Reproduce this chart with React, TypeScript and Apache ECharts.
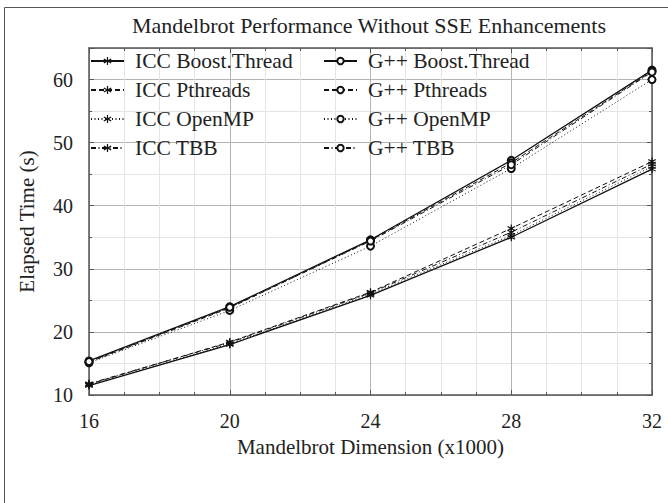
import React, { useEffect, useRef } from 'react';
import * as echarts from 'echarts';

const dims = [16, 20, 24, 28, 32];
const iccBoost = [11.5, 18.0, 25.8, 35.0, 45.8];
const iccPthreads = [11.7, 18.4, 26.3, 36.4, 47.0];
const iccOpenMP = [11.6, 18.1, 26.0, 35.3, 46.2];
const iccTBB = [11.8, 18.3, 26.2, 35.8, 46.6];
const gppBoost = [15.4, 24.0, 34.6, 47.2, 61.5];
const gppPthreads = [15.2, 23.8, 34.5, 46.8, 61.3];
const gppOpenMP = [15.1, 23.4, 33.6, 45.9, 60.0];
const gppTBB = [15.3, 23.9, 34.4, 46.5, 61.2];

const iccNames = ['ICC Boost.Thread', 'ICC Pthreads', 'ICC OpenMP', 'ICC TBB'];
const gppNames = ['G++ Boost.Thread', 'G++ Pthreads', 'G++ OpenMP', 'G++ TBB'];
const yTicks = [10, 20, 30, 40, 50, 60];

const FONT = "'Liberation Serif', serif";
const TXT = '#222';
const AX = '#555';

const ASTERISK =
  'path://M-1.4,-10L1.4,-10L1.4,10L-1.4,10Z M-9.36,-3.79L-7.96,-6.21L9.36,3.79L7.96,6.21Z M7.96,-6.21L9.36,-3.79L-7.96,6.21L-9.36,3.79Z';

const lineTypes: any[] = ['solid', [5, 3], [1, 2.5], [5, 2.5, 1, 2.5]];

export default function App() {
  const ref = useRef<HTMLDivElement>(null);
  useEffect(() => {
    document.body.style.margin = '0';
    if (!ref.current) return;
    const chart = echarts.init(ref.current, null, { renderer: 'svg' });

    const iccData = [iccBoost, iccPthreads, iccOpenMP, iccTBB];
    const gppData = [gppBoost, gppPthreads, gppOpenMP, gppTBB];

    const mk = (name: string, vals: number[], i: number, icc: boolean) => ({
      name,
      type: 'line',
      xAxisIndex: 0,
      yAxisIndex: 1,
      data: vals.map((v, k) => [dims[k], v]),
      symbol: icc ? ASTERISK : 'emptyCircle',
      symbolSize: icc ? 8 : 7,
      showAllSymbol: true,
      lineStyle: { color: '#111', width: i === 0 ? 1.3 : 1, type: lineTypes[i] },
      itemStyle: icc
        ? { color: '#111', borderWidth: 0 }
        : { color: '#111', borderColor: '#111', borderWidth: 1.2 },
      emphasis: { disabled: true },
      z: 3,
    });

    const series = [
      ...iccNames.map((n, i) => mk(n, iccData[i], i, true)),
      ...gppNames.map((n, i) => mk(n, gppData[i], i, false)),
    ];

    const legendBase = {
      orient: 'vertical',
      top: 50,
      padding: 0,
      itemWidth: 33,
      itemGap: 7,
      selectedMode: false,
      textStyle: {
        fontFamily: FONT,
        fontSize: 21.5,
        color: TXT,
        lineHeight: 22,
        padding: [0, 0, 0, 6],
      },
    };

    chart.setOption({
      animation: false,
      textStyle: { fontFamily: FONT },
      grid: { left: 89, right: 16, top: 48, bottom: 108 },
      graphic: [
        {
          type: 'rect',
          shape: { x: 4.5, y: 7.5, width: 700, height: 600 },
          style: { fill: 'none', stroke: AX, lineWidth: 1 },
          silent: true,
        },
        {
          type: 'text',
          x: 369,
          y: 25,
          style: {
            text: 'Mandelbrot Performance Without SSE Enhancements',
            fontFamily: FONT,
            fontSize: 22,
            fill: TXT,
            align: 'center',
            verticalAlign: 'middle',
          },
          silent: true,
        },
      ],
      legend: [
        { ...legendBase, left: 90, itemHeight: 10, data: iccNames },
        { ...legendBase, left: 323, itemHeight: 8, data: gppNames },
      ],
      xAxis: [
        {
          type: 'value',
          min: 16,
          max: 32,
          interval: 4,
          position: 'bottom',
          axisLine: { show: true, lineStyle: { color: AX, width: 1.5 } },
          axisTick: { show: true, inside: true, length: 5, lineStyle: { color: AX } },
          minorTick: { show: true, splitNumber: 4, length: 3, lineStyle: { color: AX } },
          splitLine: { show: true, lineStyle: { color: '#b4b4b4', width: 1 } },
          minorSplitLine: { show: true, lineStyle: { color: '#e4e4e4', width: 1 } },
          axisLabel: { fontFamily: FONT, fontSize: 20, color: TXT, margin: 16 },
          name: 'Mandelbrot Dimension (x1000)',
          nameLocation: 'middle',
          nameGap: 41,
          nameTextStyle: { fontFamily: FONT, fontSize: 21, color: TXT },
        },
        {
          type: 'value',
          min: 16,
          max: 32,
          interval: 4,
          position: 'top',
          axisLine: { show: true, lineStyle: { color: AX, width: 1.5 } },
          axisTick: { show: true, inside: true, length: 5, lineStyle: { color: AX } },
          minorTick: { show: true, splitNumber: 4, length: 3, lineStyle: { color: AX } },
          splitLine: { show: false },
          axisLabel: { show: false },
        },
      ],
      yAxis: [
        {
          type: 'value',
          min: 10,
          max: 65,
          interval: 5,
          position: 'left',
          axisLine: { show: false },
          axisTick: { show: true, inside: true, length: 3, lineStyle: { color: AX } },
          splitLine: { show: true, lineStyle: { color: '#e4e4e4', width: 1 } },
          axisLabel: { show: false },
        },
        {
          type: 'value',
          min: 10,
          max: 65,
          interval: 10,
          position: 'left',
          axisLine: { show: true, lineStyle: { color: AX, width: 1.5 } },
          axisTick: { show: true, inside: true, length: 5, lineStyle: { color: AX } },
          splitLine: { show: true, lineStyle: { color: '#b4b4b4', width: 1 } },
          axisLabel: {
            fontFamily: FONT,
            fontSize: 20,
            color: TXT,
            margin: 16,
            formatter: (v: number) => (yTicks.includes(v) ? String(v) : ''),
          },
          name: 'Elapsed Time (s)',
          nameLocation: 'middle',
          nameGap: 52,
          nameTextStyle: { fontFamily: FONT, fontSize: 21, color: TXT },
        },
        {
          type: 'value',
          min: 10,
          max: 65,
          interval: 5,
          position: 'right',
          axisLine: { show: false },
          axisTick: { show: true, inside: true, length: 3, lineStyle: { color: AX } },
          splitLine: { show: false },
          axisLabel: { show: false },
        },
        {
          type: 'value',
          min: 10,
          max: 65,
          interval: 10,
          position: 'right',
          axisLine: { show: true, lineStyle: { color: AX, width: 1.5 } },
          axisTick: { show: true, inside: true, length: 5, lineStyle: { color: AX } },
          splitLine: { show: false },
          axisLabel: { show: false },
        },
      ],
      series,
    });
    return () => chart.dispose();
  }, []);
  return <div ref={ref} style={{ width: 668, height: 503 }} />;
}
